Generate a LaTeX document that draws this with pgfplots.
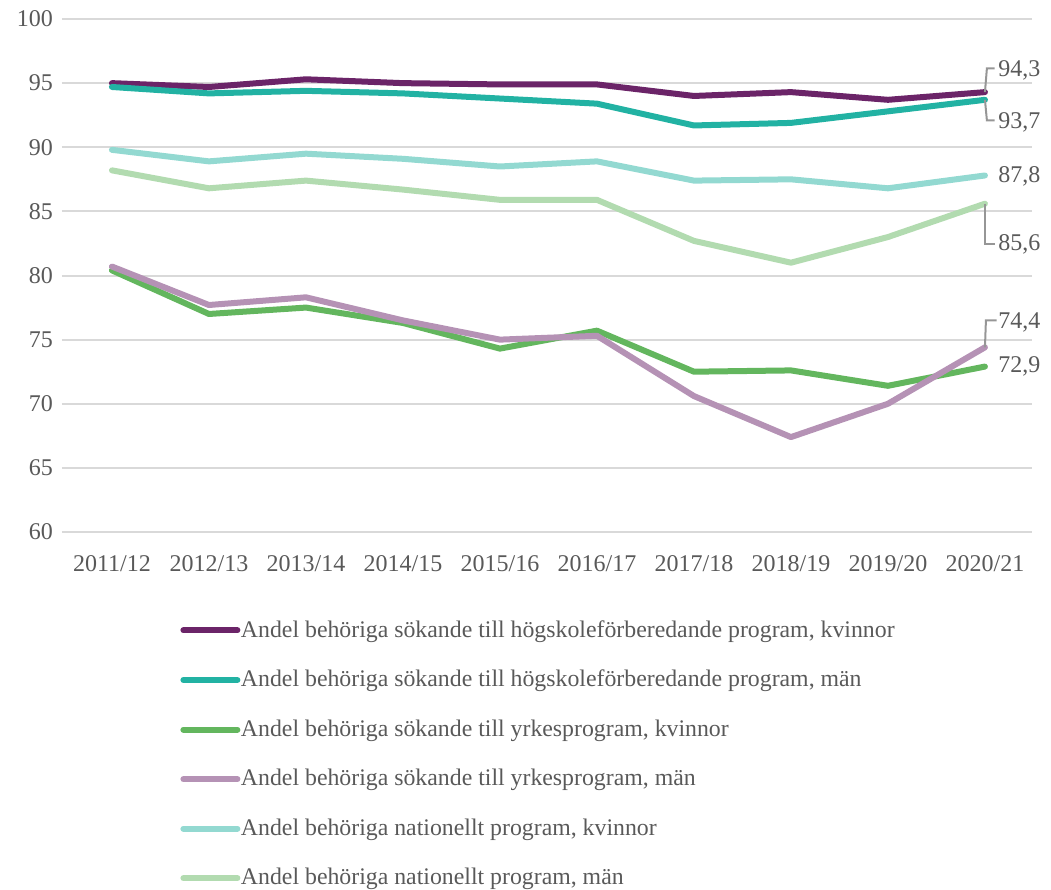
\documentclass[border=0pt]{standalone}
\usepackage{fontspec}
\setmainfont{Liberation Serif}
\usepackage{pgfplots}
\pgfplotsset{compat=1.18}
\usetikzlibrary{calc}

\definecolor{c1}{RGB}{107,36,104}
\definecolor{c2}{RGB}{34,178,163}
\definecolor{c3}{RGB}{99,182,94}
\definecolor{c4}{RGB}{181,146,181}
\definecolor{c5}{RGB}{147,217,209}
\definecolor{c6}{RGB}{178,219,176}
\definecolor{txt}{RGB}{89,89,89}
\definecolor{gridc}{RGB}{217,217,217}
\definecolor{lead}{RGB}{150,150,150}

\begin{document}
\begin{tikzpicture}
\begin{axis}[
  scale only axis,
  width=485pt, height=256.5pt,
  xmin=-0.515, xmax=9.485,
  ymin=60, ymax=100,
  ytick={60,65,...,100},
  xtick={0,...,9},
  xticklabels={2011/12,2012/13,2013/14,2014/15,2015/16,2016/17,2017/18,2018/19,2019/20,2020/21},
  axis line style={draw=none},
  major tick length=0pt,
  ymajorgrids=true,
  grid style={gridc, line width=1pt},
  tick label style={font=\fontsize{12}{14}\selectfont, text=txt},
  /pgf/number format/assume math mode=true,
  xticklabel style={yshift=-8pt},
  yticklabel style={xshift=-1pt},
  clip=false,
  legend cell align=left,
  legend style={draw=none, fill=none, inner sep=0pt,
    at={(axis description cs:0,0)}, anchor=north west,
    xshift=59pt, yshift=-44pt,
    font=\fontsize{11.9}{14}\selectfont, text=txt,
    row sep=15pt,
    nodes={inner xsep=0.3pt, inner ysep=0pt}},
  legend image code/.code={\draw[#1, line cap=round] (0pt,0pt) -- (27pt,0pt);},
  every axis plot/.append style={line width=3pt, line join=round, line cap=round},
]
\addplot[c1] coordinates {(0,95.0) (1,94.7) (2,95.3) (3,95.0) (4,94.9) (5,94.9) (6,94.0) (7,94.3) (8,93.7) (9,94.3)};
\addlegendentry{Andel behöriga sökande till högskoleförberedande program, kvinnor}
\addplot[c2] coordinates {(0,94.7) (1,94.2) (2,94.4) (3,94.2) (4,93.8) (5,93.4) (6,91.7) (7,91.9) (8,92.8) (9,93.7)};
\addlegendentry{Andel behöriga sökande till högskoleförberedande program, män}
\addplot[c3] coordinates {(0,80.4) (1,77.0) (2,77.5) (3,76.3) (4,74.3) (5,75.7) (6,72.5) (7,72.6) (8,71.4) (9,72.9)};
\addlegendentry{Andel behöriga sökande till yrkesprogram, kvinnor}
\addplot[c4] coordinates {(0,80.7) (1,77.7) (2,78.3) (3,76.5) (4,75.0) (5,75.3) (6,70.6) (7,67.4) (8,70.0) (9,74.4)};
\addlegendentry{Andel behöriga sökande till yrkesprogram, män}
\addplot[c5] coordinates {(0,89.8) (1,88.9) (2,89.5) (3,89.1) (4,88.5) (5,88.9) (6,87.4) (7,87.5) (8,86.8) (9,87.8)};
\addlegendentry{Andel behöriga nationellt program, kvinnor}
\addplot[c6] coordinates {(0,88.2) (1,86.8) (2,87.4) (3,86.7) (4,85.9) (5,85.9) (6,82.7) (7,81.0) (8,83.0) (9,85.6)};
\addlegendentry{Andel behöriga nationellt program, män}

\draw[lead, line width=1pt] (axis cs:9,94.3) -- (axis cs:9.02,96.15) -- (axis cs:9.10,96.15);
\draw[lead, line width=1pt] (axis cs:9,93.7) -- (axis cs:9.02,92.1) -- (axis cs:9.10,92.1);
\draw[lead, line width=1pt] (axis cs:9,85.6) -- (axis cs:9.0,82.45) -- (axis cs:9.10,82.45);
\draw[lead, line width=1pt] (axis cs:9,74.4) -- (axis cs:9.01,76.5) -- (axis cs:9.12,76.5);

\begin{scope}[every node/.style={anchor=west, inner sep=0pt, text=txt, font=\fontsize{12}{14}\selectfont}]
\node at (axis cs:9.134,96.02) {94,3};
\node at (axis cs:9.134,91.97) {93,7};
\node at (axis cs:9.134,87.76) {87,8};
\node at (axis cs:9.134,82.46) {85,6};
\node at (axis cs:9.134,76.37) {74,4};
\node at (axis cs:9.134,72.94) {72,9};
\end{scope}
\end{axis}
\pgfresetboundingbox
\path ($(current axis.south west)+(-31pt,-179pt)$) rectangle ($(current axis.south west)+(494.5pt,266pt)$);
\end{tikzpicture}
\end{document}
